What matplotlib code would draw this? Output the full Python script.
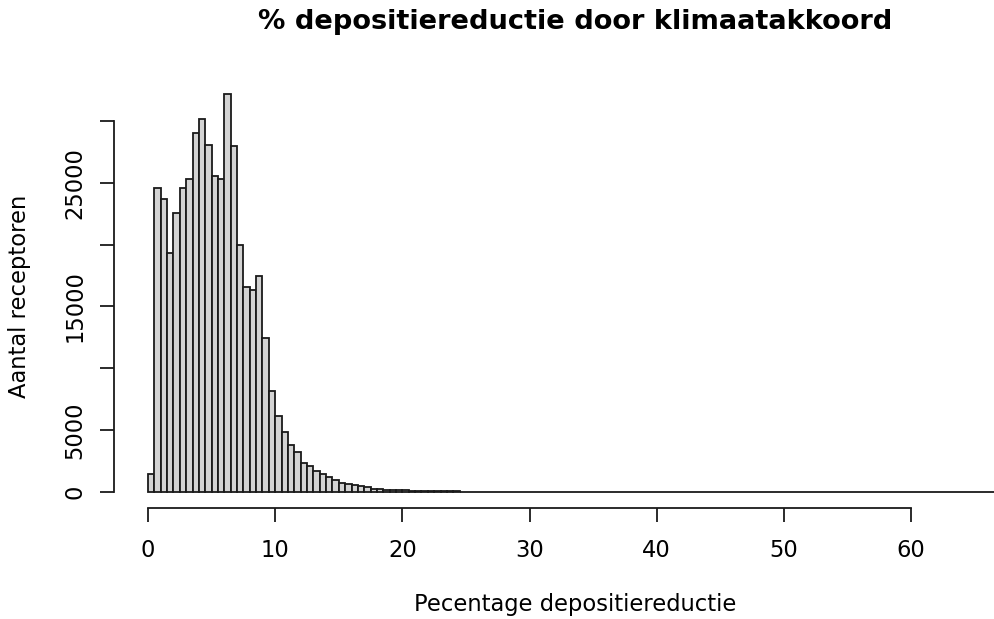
"""Histogram of deposition reduction per receptor (R base-graphics look)."""

import matplotlib
matplotlib.use("Agg")
import matplotlib.pyplot as plt
import numpy as np

# Bin width of the histogram (percent), first bin starts at 0.
BIN_WIDTH = 0.5

# Counts per bin (bins 0-0.5, 0.5-1, ...).
counts_main = [
    1430, 24550, 23690, 19350, 22530, 24580, 25330, 29050, 30130, 28080,
    25570, 25280, 32200, 27970, 19990, 16570, 16300, 17490, 12470, 8160,
    6120, 4830, 3800, 3230, 2370, 2100, 1700, 1430, 1190, 950,
    700, 620, 540, 460, 380, 280, 220, 190, 170, 150,
    130, 110, 95, 80, 70, 62,
]
# Long thin tail from 23 % up to ~66.5 %, barely above zero.
counts_tail = [
    55, 50, 45, 40, 38, 33, 30, 28, 25, 22,
    20, 19, 17, 15, 14, 13, 12, 11, 10, 10,
    9, 9, 8, 8, 7, 7, 6, 6, 5, 5,
    5, 4, 4, 4, 4, 3, 3, 3, 3, 3,
    3, 2, 2, 2, 2, 2, 2, 2, 2, 2,
    2, 1, 1, 1, 1, 1, 1, 1, 1, 1,
    1, 1, 1, 1, 1, 1, 1, 1, 1, 1,
    1, 1, 1, 1, 1, 1, 1, 1, 1, 1,
    1, 1, 1, 1, 1, 1, 1,
]
counts = counts_main + counts_tail

x_ticks = [0, 10, 20, 30, 40, 50, 60]
y_ticks = [0, 5000, 10000, 15000, 20000, 25000, 30000]
y_tick_labels = ["0", "5000", "", "15000", "", "25000", ""]

title = "% depositiereductie door klimaatakkoord"
xlabel = "Pecentage depositiereductie"
ylabel = "Aantal receptoren"

W, H = 994, 619
fig = plt.figure(figsize=(W / 100, H / 100), dpi=100)

# plot region in pixels (R extends the range by 4 %, right side is cropped)
left, right, top, bottom = 114, 994, 78, 508
ax = fig.add_axes([left / W, 1 - bottom / H, (right - left) / W, (bottom - top) / H])

edges = np.arange(len(counts)) * BIN_WIDTH
ax.bar(edges, counts, width=BIN_WIDTH, align="edge",
       color="#D3D3D3", edgecolor="#1a1a1a", linewidth=1.3)

ax.set_xlim(-2.673, 66.51)
ax.set_ylim(-1294, 33477)

for side in ("top", "right"):
    ax.spines[side].set_visible(False)
ax.spines["bottom"].set_bounds(0, 60)
ax.spines["left"].set_bounds(0, 30000)
for side in ("bottom", "left"):
    ax.spines[side].set_linewidth(1.3)
    ax.spines[side].set_color("#1a1a1a")

ax.set_xticks(x_ticks)
ax.set_xticklabels([str(t) for t in x_ticks])
ax.set_yticks(y_ticks)
ax.set_yticklabels(y_tick_labels, rotation=90, va="center")
ax.tick_params(axis="both", length=10, width=1.3, color="#1a1a1a",
               labelsize=16.3, direction="out")
ax.tick_params(axis="x", pad=12)
ax.tick_params(axis="y", pad=10)

fig.text(575 / W, 1 - 22 / H, title, ha="center", va="center",
         fontsize=19.6, fontweight="bold")
fig.text(575 / W, 1 - 604 / H, xlabel, ha="center", va="center", fontsize=16.3)
fig.text(20 / W, 1 - 296 / H, ylabel, ha="center", va="center",
         rotation=90, fontsize=16.3)

fig.savefig("out.png", dpi=100)
